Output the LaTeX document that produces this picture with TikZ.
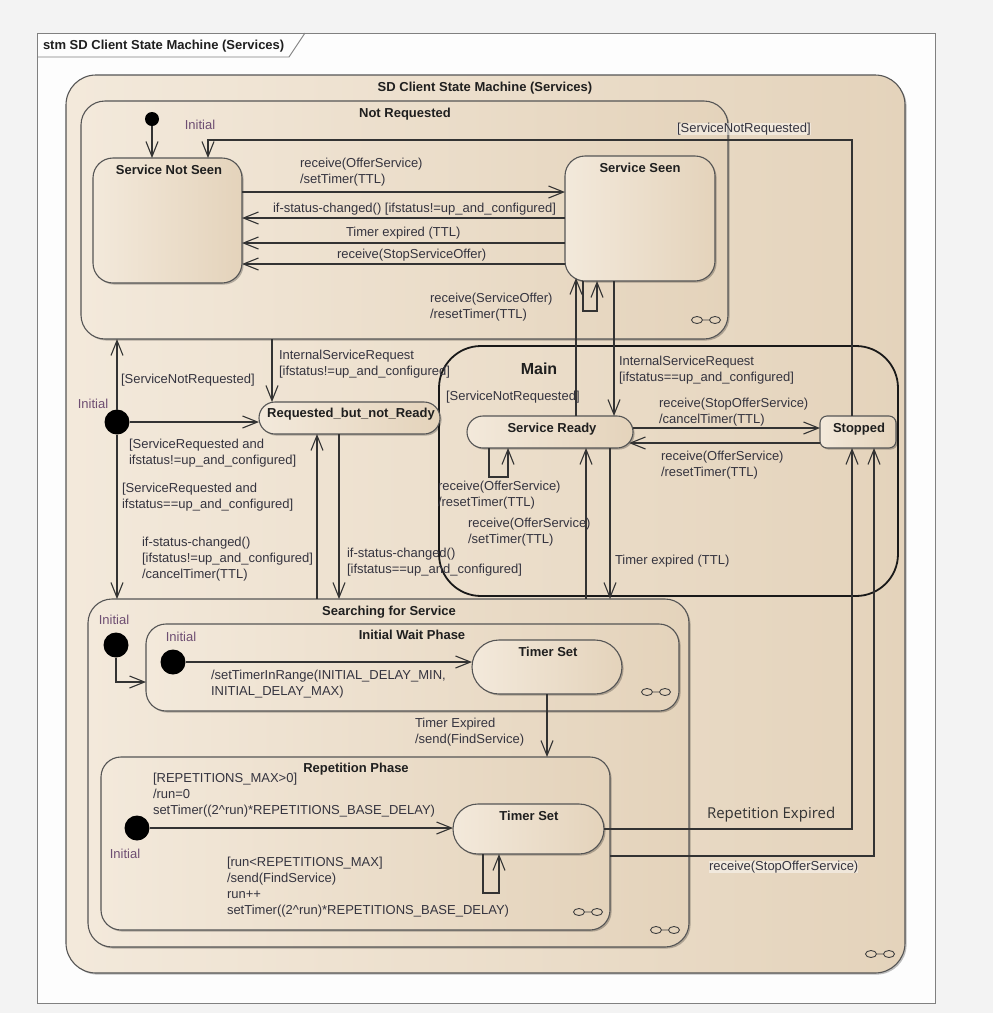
\documentclass[tikz,border=0pt]{standalone}
\usepackage{fontspec}
\setmainfont{Liberation Sans}
\newfontfamily\repfont{Open Sans}
\usetikzlibrary{arrows.meta,shadows}
\definecolor{fillL}{HTML}{F3E9DB}
\definecolor{fillM}{HTML}{F6EEE3}
\definecolor{fillR}{HTML}{E4D3BB}
\definecolor{edgec}{HTML}{555555}
\definecolor{lblc}{HTML}{35343F}
\definecolor{initc}{HTML}{6E4E72}
\definecolor{pagebg}{HTML}{F3F3F3}
\definecolor{framebg}{HTML}{FDFDFD}
\newcommand\lblsize{\fontsize{13}{16}\selectfont}
\begin{document}
\begin{tikzpicture}[x=1pt,y=-1pt,
  every node/.style={inner sep=0pt,outer sep=0pt},
  shad/.style={drop shadow={shadow xshift=1.6pt,shadow yshift=-1.6pt,opacity=0.25,fill=black}},
  box/.style={draw=edgec,line width=1.1pt,left color=fillL,middle color=fillM,right color=fillR,shad},
  initdot/.style={circle,fill=black,minimum size=25pt},
  trans/.style={draw=black!80,line width=1.1pt,-{Straight Barb[length=15pt,width=12pt,line width=1.1pt]}},
  plain/.style={draw=black!80,line width=1.1pt},
  ttl/.style={font=\lblsize\bfseries,text=black!88,anchor=base},
  lbl/.style={font=\lblsize,text=lblc,align=left,anchor=north west},
  ini/.style={font=\lblsize,text=initc,anchor=base},
  framec/.style={draw=black!50,line width=0.9pt},
  compo/.pic={\draw[line width=0.9pt,draw=black!75] (-9,0) ellipse [x radius=5.5,y radius=3.5] (9,0) ellipse [x radius=5.5,y radius=3.5] (-3.5,0) -- (3.5,0);}
]
\useasboundingbox (0,0) rectangle (993,1013);
\fill[pagebg] (0,0) rectangle (993,1013);
\filldraw[framec,fill=framebg] (37,33) rectangle (935,1003);
\draw[framec] (37,57) -- (289,57) -- (305,33);
\node[ttl,anchor=base west] (frameT) at (43,49) {stm SD Client State Machine (Services)};

% states
\node[box,rounded corners=30pt,minimum width=839pt,minimum height=898pt] (sd) at (485.5,524) {};
\node[ttl] (sdT) at (485,91.7) {SD Client State Machine (Services)};
\node[box,rounded corners=24pt,minimum width=647pt,minimum height=238pt] (notreq) at (404.5,220) {};
\node[ttl] (notreqT) at (405,117.7) {Not Requested};
\node[box,rounded corners=20pt,minimum width=149pt,minimum height=125pt] (sns) at (167.5,220.5) {};
\node[ttl] (snsT) at (169,174.7) {Service Not Seen};
\node[box,rounded corners=20pt,minimum width=150pt,minimum height=125pt] (ss) at (640,218.5) {};
\node[ttl] (ssT) at (640,172.2) {Service Seen};
\node[draw=black!90,line width=1.8pt,rounded corners=42pt,minimum width=459pt,minimum height=250pt] (main) at (668.5,471) {};
\node[font=\fontsize{16}{19}\selectfont\bfseries,text=black!88,anchor=base] (mainT) at (539,374.8) {Main};
\node[box,rounded corners=16pt,minimum width=166pt,minimum height=32pt] (sr) at (550,432) {};
\node[ttl] (srT) at (552,432.7) {Service Ready};
\node[box,rounded corners=7pt,minimum width=76pt,minimum height=32pt] (stopped) at (858,432) {};
\node[ttl] (stoppedT) at (859,432.7) {Stopped};
\node[box,rounded corners=16pt,minimum width=181pt,minimum height=32pt] (rbnr) at (349.5,418) {};
\node[ttl] (rbnrT) at (351,417.7) {Requested\_but\_not\_Ready};
\node[box,rounded corners=24pt,minimum width=601pt,minimum height=348pt] (search) at (388.5,773) {};
\node[ttl] (searchT) at (389,615.7) {Searching for Service};
\node[box,rounded corners=20pt,minimum width=533pt,minimum height=87pt] (iwp) at (412.5,667.5) {};
\node[ttl] (iwpT) at (412,639.7) {Initial Wait Phase};
\node[box,rounded corners=27pt,minimum width=150pt,minimum height=54pt] (ts1) at (547,667) {};
\node[ttl] (ts1T) at (548,656.7) {Timer Set};
\node[box,rounded corners=20pt,minimum width=509pt,minimum height=173pt] (rep) at (355.5,843.5) {};
\node[ttl] (repT) at (356,772.7) {Repetition Phase};
\node[box,rounded corners=25pt,minimum width=151pt,minimum height=50pt] (ts2) at (528.5,829) {};
\node[ttl] (ts2T) at (529,820.7) {Timer Set};

% initial pseudostates
\node[circle,fill=black,minimum size=14pt] (init1) at (152,119) {};
\node[initdot] (init2) at (117,422) {};
\node[initdot] (init3) at (116,645) {};
\node[initdot] (init4) at (173,662) {};
\node[initdot] (init5) at (137,828) {};

% composite icons
\pic at (706,320) {compo};
\pic at (656,692) {compo};
\pic at (588,912) {compo};
\pic at (665,930) {compo};
\pic at (880,954) {compo};

% helper coordinates
\coordinate (X208) at (208,0);
\coordinate (X852) at (852,0);
\coordinate (X874) at (874,0);
\coordinate (X583) at (583,0);
\coordinate (X597) at (597,0);
\coordinate (X614) at (614,0);
\coordinate (X576) at (576,0);
\coordinate (X272) at (272,0);
\coordinate (X317) at (317,0);
\coordinate (X339) at (339,0);
\coordinate (X489) at (489,0);
\coordinate (X508) at (508,0);
\coordinate (X586) at (586,0);
\coordinate (X610) at (610,0);
\coordinate (X483) at (483,0);
\coordinate (X499) at (499,0);
\coordinate (Y192) at (0,192);
\coordinate (Y218) at (0,218);
\coordinate (Y243) at (0,243);
\coordinate (Y264) at (0,264);
\coordinate (Y428) at (0,428);
\coordinate (Y682) at (0,682);
\coordinate (Y856) at (0,856);
\coordinate (bend2) at (208,140);
\coordinate (ssloop) at (597,311);
\coordinate (srloop) at (508,477);
\coordinate (tsloop) at (499,893);
\coordinate (srE443) at (629,443);

% transitions
\draw[trans] (init1) -- (init1 |- sns.north);
\draw[trans] (stopped.north -| X852) |- (bend2) -- (sns.north -| bend2);
\draw[trans] (sns.east |- Y192) -- (ss.west |- Y192);
\draw[trans] (ss.west |- Y218) -- (sns.east |- Y218);
\draw[trans] (ss.west |- Y243) -- (sns.east |- Y243);
\draw[trans] (ss.west |- Y264) -- (sns.east |- Y264);
\draw[trans] (ss.south -| X583) |- (ssloop) -- (ss.south -| X597);
\draw[trans] (ss.south -| X614) -- (sr.north -| X614);
\draw[trans] (sr.north -| X576) -- ([yshift=3pt]ss.south -| X576);
\draw[trans] (notreq.south -| X272) -- (rbnr.north -| X272);
\draw[trans] (init2) -- (rbnr.west |- init2);
\draw[trans] (init2) -- (notreq.south -| init2);
\draw[trans] (init2) -- (search.north -| init2);
\draw[trans] (search.north -| X317) -- (rbnr.south -| X317);
\draw[trans] (rbnr.south -| X339) -- (search.north -| X339);
\draw[trans] (sr.south -| X489) |- (srloop) -- (sr.south -| X508);
\draw[trans] (sr.east |- Y428) -- (stopped.west |- Y428);
\draw[trans] (stopped.west |- srE443) -- (srE443);
\draw[trans] (search.north -| X586) -- (sr.south -| X586);
\draw[trans] (sr.south -| X610) -- (search.north -| X610);
\draw[trans] (init3) |- (iwp.west |- Y682);
\draw[trans] (init4) -- (ts1.west |- init4);
\draw[trans] (ts1.south) -- (rep.north -| ts1.south);
\draw[trans] (init5) -- (ts2.west |- init5);
\draw[trans] (ts2.south -| X483) |- (tsloop) -- (ts2.south -| X499);
\draw[trans] (ts2.east) -| (stopped.south -| X852);
\draw[trans] (rep.east |- Y856) -| (stopped.south -| X874);

% labels
\node[ini] (i1) at (200,129.7) {Initial};
\node[lbl] (l2) at (300,158) {receive(OfferService)\\/setTimer(TTL)};
\node[lbl] (l3) at (273,203) {if-status-changed() [ifstatus!=up\_and\_configured]};
\node[lbl] (l4) at (346,227) {Timer expired (TTL)};
\node[lbl] (l5) at (337,249) {receive(StopServiceOffer)};
\node[lbl] (l6) at (430,293) {receive(ServiceOffer)\\/resetTimer(TTL)};
\node[lbl,fill=white,fill opacity=0.45,text opacity=1] (l7) at (677,123) {[ServiceNotRequested]};
\node[lbl] (l8) at (279,350) {InternalServiceRequest\\{}[ifstatus!=up\_and\_configured]};
\node[lbl] (l9) at (121,374) {[ServiceNotRequested]};
\node[ini] (i2) at (93,408.7) {Initial};
\node[lbl] (l11) at (129,439) {[ServiceRequested and\\ifstatus!=up\_and\_configured]};
\node[lbl] (l12) at (122,483) {[ServiceRequested and\\ifstatus==up\_and\_configured]};
\node[lbl] (l13) at (142,537) {if-status-changed()\\{}[ifstatus!=up\_and\_configured]\\/cancelTimer(TTL)};
\node[lbl] (l14) at (347,548) {if-status-changed()\\{}[ifstatus==up\_and\_configured]};
\node[lbl] (l15) at (619,356) {InternalServiceRequest\\{}[ifstatus==up\_and\_configured]};
\node[lbl] (l16) at (446,391) {[ServiceNotRequested]};
\node[lbl] (l17) at (659,398) {receive(StopOfferService)\\/cancelTimer(TTL)};
\node[lbl] (l18) at (661,451) {receive(OfferService)\\/resetTimer(TTL)};
\node[lbl] (l19) at (438,481) {receive(OfferService)\\/resetTimer(TTL)};
\node[lbl] (l20) at (468,518) {receive(OfferService)\\/setTimer(TTL)};
\node[lbl] (l21) at (615,555) {Timer expired (TTL)};
\node[ini] (i3) at (114,624.7) {Initial};
\node[ini] (i4) at (181,641.7) {Initial};
\node[lbl] (l24) at (211,670) {/setTimerInRange(INITIAL\_DELAY\_MIN,\\INITIAL\_DELAY\_MAX)};
\node[lbl] (l25) at (415,718) {Timer Expired\\/send(FindService)};
\node[lbl] (l26) at (153,773) {[REPETITIONS\_MAX>0]\\/run=0\\setTimer((2\textasciicircum run)*REPETITIONS\_BASE\_DELAY)};
\node[ini] (i5) at (125,858.7) {Initial};
\node[lbl] (l28) at (227,857) {[run<REPETITIONS\_MAX]\\/send(FindService)\\run++\\setTimer((2\textasciicircum run)*REPETITIONS\_BASE\_DELAY)};
\node[font=\repfont\fontsize{15}{18}\selectfont,text=black!80,anchor=base west] (l29) at (707,818.5) {Repetition Expired};
\node[lbl,fill=white,fill opacity=0.45,text opacity=1] (l30) at (709,861) {receive(StopOfferService)};
\end{tikzpicture}
\end{document}
